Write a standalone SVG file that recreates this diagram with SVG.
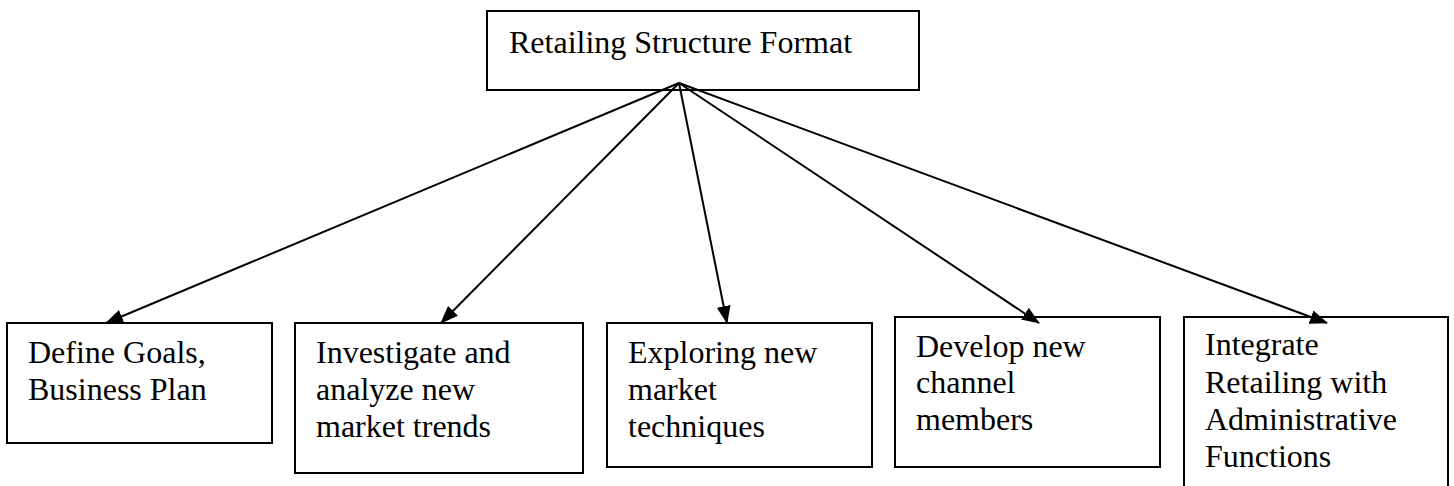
<svg xmlns="http://www.w3.org/2000/svg" width="1454" height="486" viewBox="0 0 1454 486">
<style>
.box{fill:#fff;stroke:#000;stroke-width:2}
.t{font-family:"Liberation Serif","Times New Roman",serif;font-size:32px;fill:#000}
.c{stroke:#000;stroke-width:2;fill:none;marker-end:url(#ah)}
</style>
<defs>
<marker id="ah" viewBox="0 0 18 14" refX="17" refY="7" markerWidth="18" markerHeight="14" markerUnits="userSpaceOnUse" orient="auto">
<path d="M0,0 L18,7 L0,14 z" fill="#000"/>
</marker>
</defs>
<rect width="1454" height="486" fill="#fff"/>
<g id="root">
<rect class="box" x="487" y="11" width="432" height="79"/>
<text class="t" x="509" y="53">Retailing Structure Format</text>
</g>
<g id="n1">
<rect class="box" x="7" y="323" width="265" height="120"/>
<text class="t" x="28" y="363">Define Goals,</text>
<text class="t" x="28" y="400">Business Plan</text>
</g>
<g id="n2">
<rect class="box" x="295" y="323" width="288" height="150"/>
<text class="t" x="316" y="363">Investigate and</text>
<text class="t" x="316" y="400">analyze new</text>
<text class="t" x="316" y="437">market trends</text>
</g>
<g id="n3">
<rect class="box" x="607" y="323" width="265" height="144"/>
<text class="t" x="628" y="363">Exploring new</text>
<text class="t" x="628" y="400">market</text>
<text class="t" x="628" y="437">techniques</text>
</g>
<g id="n4">
<rect class="box" x="895" y="317" width="265" height="150"/>
<text class="t" x="916" y="357">Develop new</text>
<text class="t" x="916" y="393">channel</text>
<text class="t" x="916" y="430">members</text>
</g>
<g id="n5">
<rect class="box" x="1184" y="317" width="264" height="190"/>
<text class="t" x="1205" y="355">Integrate</text>
<text class="t" x="1205" y="393">Retailing with</text>
<text class="t" x="1205" y="430">Administrative</text>
<text class="t" x="1205" y="467">Functions</text>
</g>
<g id="connectors">
<line class="c" x1="679" y1="83" x2="106" y2="323"/>
<line class="c" x1="679" y1="83" x2="441" y2="323"/>
<line class="c" x1="679" y1="83" x2="727" y2="323"/>
<line class="c" x1="679" y1="83" x2="1039" y2="323"/>
<line class="c" x1="679" y1="83" x2="1327" y2="323"/>
</g>
</svg>
